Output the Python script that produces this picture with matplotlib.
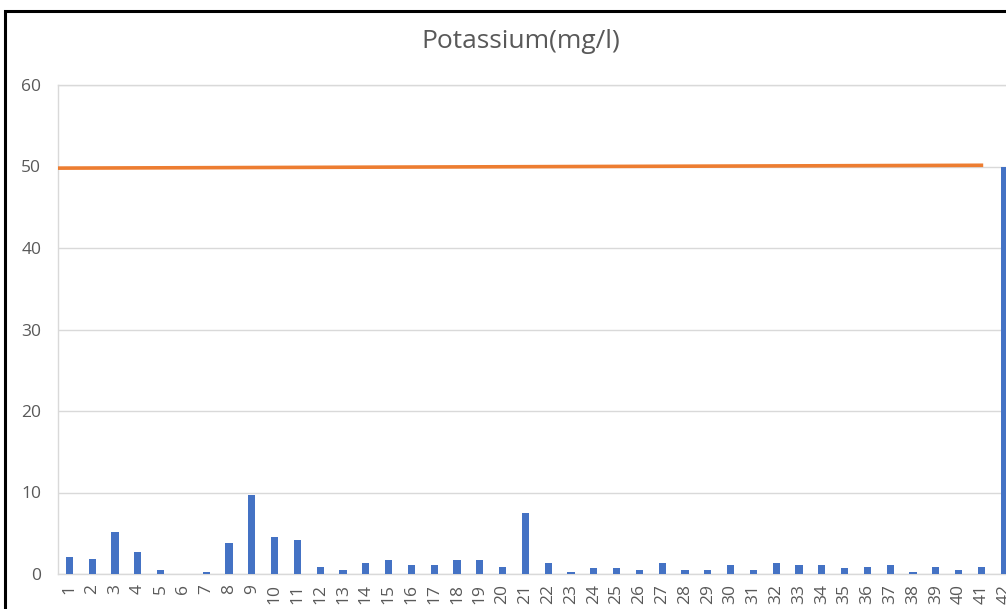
import matplotlib
matplotlib.use('Agg')
import matplotlib.pyplot as plt
from matplotlib.patches import Rectangle

plt.rcParams['font.family'] = ['Open Sans', 'DejaVu Sans']

# sample numbers 1..42 and potassium readings (mg/l)
samples = list(range(1, 43))
potassium = [2.1, 1.9, 5.2, 2.7, 0.5, 0.0, 0.3, 3.8, 9.7, 4.6,
             4.2, 0.8, 0.5, 1.3, 1.7, 1.1, 1.1, 1.7, 1.7, 0.9,
             7.45, 1.3, 0.3, 0.7, 0.7, 0.5, 1.3, 0.5, 0.5, 1.1,
             0.5, 1.3, 1.1, 1.1, 0.7, 0.9, 1.1, 0.3, 0.9, 0.5,
             0.9, 50.0]
# permissible limit line
limit_x = [0.5, 41]
limit_y = [49.8, 50.15]

grey = '#595959'
W, H = 1006, 609
fig = plt.figure(figsize=(W / 100, H / 100), dpi=100)
# plot area runs past the right edge, as in the cropped screenshot
ax = fig.add_axes([58 / W, 35 / H, 957.6 / W, 489 / H])

ax.bar(samples, potassium, width=0.32, color='#4472C4', zorder=3)
ax.plot(limit_x, limit_y, color='#ED7D31', lw=2.6, zorder=4)

ax.set_xlim(0.5, 42.5)
ax.set_ylim(0, 60)
ax.set_yticks(range(0, 61, 10))
ax.set_xticks(samples)
ax.set_xticklabels([str(s) for s in samples], rotation=90)
ax.tick_params(axis='both', length=0, labelsize=12.5, labelcolor=grey)
ax.tick_params(axis='y', pad=12)
ax.tick_params(axis='x', pad=7)
ax.grid(axis='y', color='#D9D9D9', lw=1, zorder=0)
for s in ax.spines.values():
    s.set_color('#D9D9D9')
    s.set_linewidth(1)

fig.text(521 / W, 1 - 41 / H, 'Potassium(mg/l)', ha='center', va='center',
         fontsize=19, color=grey)

# black frame of the screenshot (top and left edges visible)
fig.patches.append(Rectangle((5 / W, -0.1), 1.2, 1 - 11 / H + 0.1,
                             transform=fig.transFigure, fill=False,
                             edgecolor='black', lw=2.2))

plt.savefig('out.png', dpi=100)
